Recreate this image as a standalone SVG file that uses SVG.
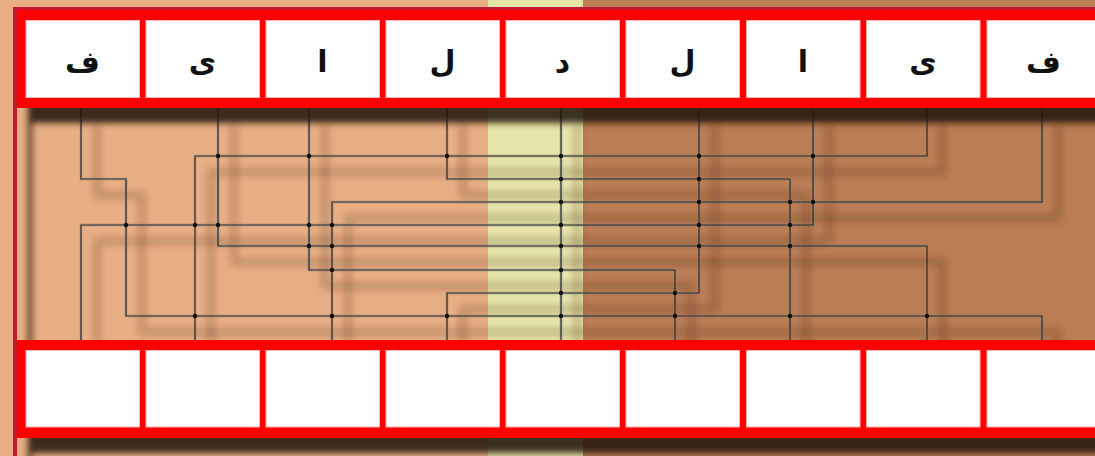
<svg xmlns="http://www.w3.org/2000/svg" width="1095" height="456" viewBox="0 0 1095 456">
<defs>
<filter id="frameShadow" filterUnits="userSpaceOnUse" x="0" y="0" width="1095" height="456">
<feGaussianBlur in="SourceAlpha" stdDeviation="3"/>
<feOffset dx="15" dy="15" result="b"/>
<feFlood flood-color="#24160c" flood-opacity="0.88"/>
<feComposite in2="b" operator="in" result="s"/>
<feMerge><feMergeNode in="s"/><feMergeNode in="SourceGraphic"/></feMerge>
</filter>
<filter id="wireBlur" filterUnits="userSpaceOnUse" x="0" y="0" width="1095" height="456">
<feGaussianBlur stdDeviation="3.5"/>
</filter>
<style>
.cell{fill:#ffffff;stroke:#ffb8b8;stroke-width:1}
.band{fill:#ff0000}
.frame{fill:#c8162e}
.lbl{font-family:"DejaVu Sans",sans-serif;font-weight:bold;font-size:30px;fill:#111;text-anchor:middle}
.wire{fill:none;stroke:#2b2b2b;stroke-width:1.2}
.halo{fill:none;stroke:#8a8a8a;stroke-opacity:0.4;stroke-width:3}
.shadow{fill:none;stroke:#3a2210;stroke-opacity:0.22;stroke-width:7}
.dot{fill:#111}
</style>
</defs>
<!-- background -->
<rect x="0" y="0" width="489" height="456" fill="#e8ae84"/>
<rect x="488" y="0" width="95" height="456" fill="#e6e4a8"/>
<rect x="583" y="0" width="512" height="456" fill="#bb7d54"/>

<!-- wire shadows -->
<g transform="translate(16,16)" filter="url(#wireBlur)" class="shadow">
<path d="M81,108 V179 H126 V316 H1042 V340"/>
<path d="M218,108 V246 H927 V340"/>
<path d="M309,108 V270 H675 V340"/>
<path d="M447,108 V179 H790 V340"/>
<path d="M561,108 V340"/>
<path d="M699,108 V293 H447 V340"/>
<path d="M813,108 V225 H81 V340"/>
<path d="M927,108 V156 H195 V340"/>
<path d="M1042,108 V202 H332 V340"/>
</g>

<g id="connectors">
<g class="halo">
<path d="M81,108 V179 H126 V316 H1042 V340"/>
<path d="M218,108 V246 H927 V340"/>
<path d="M309,108 V270 H675 V340"/>
<path d="M447,108 V179 H790 V340"/>
<path d="M561,108 V340"/>
<path d="M699,108 V293 H447 V340"/>
<path d="M813,108 V225 H81 V340"/>
<path d="M927,108 V156 H195 V340"/>
<path d="M1042,108 V202 H332 V340"/>
</g>
<g class="wire">
<path d="M81,108 V179 H126 V316 H1042 V340"/>
<path d="M218,108 V246 H927 V340"/>
<path d="M309,108 V270 H675 V340"/>
<path d="M447,108 V179 H790 V340"/>
<path d="M561,108 V340"/>
<path d="M699,108 V293 H447 V340"/>
<path d="M813,108 V225 H81 V340"/>
<path d="M927,108 V156 H195 V340"/>
<path d="M1042,108 V202 H332 V340"/>
</g>
<g class="dot">
<circle cx="126" cy="225" r="2.2"/>
<circle cx="195" cy="225" r="2.2"/><circle cx="195" cy="316" r="2.2"/>
<circle cx="218" cy="156" r="2.2"/><circle cx="218" cy="225" r="2.2"/>
<circle cx="309" cy="156" r="2.2"/><circle cx="309" cy="225" r="2.2"/><circle cx="309" cy="246" r="2.2"/>
<circle cx="332" cy="225" r="2.2"/><circle cx="332" cy="246" r="2.2"/><circle cx="332" cy="270" r="2.2"/><circle cx="332" cy="316" r="2.2"/>
<circle cx="447" cy="156" r="2.2"/><circle cx="447" cy="316" r="2.2"/>
<circle cx="561" cy="156" r="2.2"/><circle cx="561" cy="179" r="2.2"/><circle cx="561" cy="202" r="2.2"/><circle cx="561" cy="225" r="2.2"/><circle cx="561" cy="246" r="2.2"/><circle cx="561" cy="270" r="2.2"/><circle cx="561" cy="293" r="2.2"/><circle cx="561" cy="316" r="2.2"/>
<circle cx="675" cy="293" r="2.2"/><circle cx="675" cy="316" r="2.2"/>
<circle cx="699" cy="156" r="2.2"/><circle cx="699" cy="179" r="2.2"/><circle cx="699" cy="202" r="2.2"/><circle cx="699" cy="225" r="2.2"/><circle cx="699" cy="246" r="2.2"/>
<circle cx="790" cy="202" r="2.2"/><circle cx="790" cy="225" r="2.2"/><circle cx="790" cy="246" r="2.2"/><circle cx="790" cy="316" r="2.2"/>
<circle cx="813" cy="156" r="2.2"/><circle cx="813" cy="202" r="2.2"/>
<circle cx="927" cy="316" r="2.2"/>
</g>
</g>

<g id="frame" filter="url(#frameShadow)">
<rect class="frame" x="13" y="7" width="1082" height="3"/>
<rect class="frame" x="13" y="7" width="4" height="449"/>
<rect class="band" x="17" y="10" width="1078" height="98"/>
<rect class="band" x="17" y="340" width="1078" height="98"/>
</g>

<g id="top-0"><rect class="cell" x="26" y="20.5" width="113.5" height="77"/><text class="lbl" x="82.5" y="72">ف</text></g>
<g id="top-1"><rect class="cell" x="146" y="20.5" width="113.5" height="77"/><text class="lbl" x="202.5" y="72">ی</text></g>
<g id="top-2"><rect class="cell" x="266" y="20.5" width="113.5" height="77"/><text class="lbl" x="322.5" y="72">ا</text></g>
<g id="top-3"><rect class="cell" x="386" y="20.5" width="113.5" height="77"/><text class="lbl" x="442.5" y="72">ل</text></g>
<g id="top-4"><rect class="cell" x="506" y="20.5" width="113.5" height="77"/><text class="lbl" x="562.5" y="72">د</text></g>
<g id="top-5"><rect class="cell" x="626" y="20.5" width="113.5" height="77"/><text class="lbl" x="682.5" y="72">ل</text></g>
<g id="top-6"><rect class="cell" x="746.5" y="20.5" width="113.5" height="77"/><text class="lbl" x="803" y="72">ا</text></g>
<g id="top-7"><rect class="cell" x="866.5" y="20.5" width="113.5" height="77"/><text class="lbl" x="923" y="72">ی</text></g>
<g id="top-8"><rect class="cell" x="987" y="20.5" width="113.5" height="77"/><text class="lbl" x="1043.5" y="72">ف</text></g>

<g id="bot-0"><rect class="cell" x="26" y="350.5" width="113.5" height="76.5"/></g>
<g id="bot-1"><rect class="cell" x="146" y="350.5" width="113.5" height="76.5"/></g>
<g id="bot-2"><rect class="cell" x="266" y="350.5" width="113.5" height="76.5"/></g>
<g id="bot-3"><rect class="cell" x="386" y="350.5" width="113.5" height="76.5"/></g>
<g id="bot-4"><rect class="cell" x="506" y="350.5" width="113.5" height="76.5"/></g>
<g id="bot-5"><rect class="cell" x="626" y="350.5" width="113.5" height="76.5"/></g>
<g id="bot-6"><rect class="cell" x="746.5" y="350.5" width="113.5" height="76.5"/></g>
<g id="bot-7"><rect class="cell" x="866.5" y="350.5" width="113.5" height="76.5"/></g>
<g id="bot-8"><rect class="cell" x="987" y="350.5" width="113.5" height="76.5"/></g>
</svg>
